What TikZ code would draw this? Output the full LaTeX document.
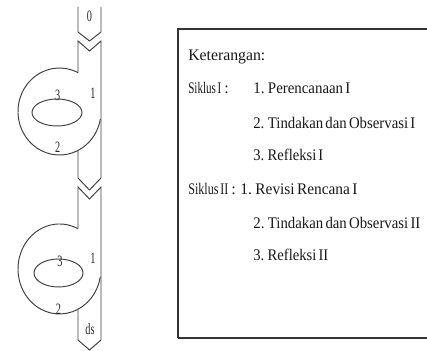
\documentclass[tikz,border=0pt]{standalone}
\usepackage{graphicx}
\usepackage{fontspec}
\setmainfont{Liberation Serif}[WordSpace=0.6]
\newfontfamily\labfont{Liberation Serif}[FakeStretch=0.65]
\newlength\px
\setlength\px{0.02cm}
\newcommand\fitw[2]{\resizebox{#1\px}{\height}{#2}}
\begin{document}
\begin{tikzpicture}[x=0.02cm,y=-0.02cm,
  strip/.style={draw=black!75, line width=0.55pt, line join=miter},
  lab/.style={inner sep=0pt, font=\labfont\fontsize{9}{9}\selectfont, text=black!85},
  txt/.style={inner sep=0pt, anchor=base west, font=\fontsize{9.2}{11}\selectfont, text=black!90}]
\useasboundingbox (0,0) rectangle (427,351);
\fill[white] (0,0) rectangle (427,351);
% top arrow piece
\draw[strip] (78,7) -- (78,32) -- (89.5,41) -- (101,32) -- (101,7);
% first spiral
\draw[strip] (78,72.6) -- (78,41) -- (89.5,51) -- (101,41) -- (101,178) -- (89.5,190) -- (78,178) -- (78,150.6);
\draw[strip] (78,72.6) arc[start angle=-63.5, end angle=-350, x radius=41.5, y radius=43.5];
\draw[strip] (57,112.5) ellipse [x radius=25, y radius=13.5];
% second spiral
\draw[strip] (78,228.7) -- (78,187) -- (89.5,199) -- (101,187) -- (101,340) -- (89.5,350) -- (78,340) -- (78,309.4);
\draw[strip] (78,228.7) arc[start angle=-63.5, end angle=-350, x radius=41.5, y radius=45];
\draw[strip] (58.5,273) ellipse [x radius=24.5, y radius=14];
% labels
\node[lab] (l0) at (89.5,16) {0};
\node[lab] (a1) at (93,93) {1};
\node[lab] (a3) at (57.7,95) {3};
\node[lab] (a2) at (57.7,147) {2};
\node[lab] (b1) at (93,258) {1};
\node[lab] (b3) at (60,261) {3};
\node[lab] (b2) at (58.5,309) {2};
\node[lab] (ds) at (90,329) {ds};
% legend box
\draw[black!80, line width=0.6pt] (432,29) -- (178,29) -- (178,338);
\draw[black!80, line width=1.1pt] (178,338) -- (432,338);
\node[txt] (k) at (188,60.7) {\fitw{77}{Keterangan:}};
\node[txt] (s1) at (188,94) {\fitw{33}{Siklus I}};
\node[txt] (c1) at (224,94) {:};
\node[txt] (s1a) at (253,94) {\fitw{97}{1. Perencanaan I}};
\node[txt] (s1b) at (253,128.3) {\fitw{162}{2. Tindakan dan Observasi I}};
\node[txt] (s1c) at (253,161) {\fitw{70}{3. Refleksi I}};
\node[txt] (s2) at (188,194.3) {\fitw{40}{Siklus II}};
\node[txt] (c2) at (231,194.3) {:};
\node[txt] (s2a) at (240,194.3) {\fitw{117}{1. Revisi Rencana I}};
\node[txt] (s2b) at (253,228.3) {\fitw{167}{2. Tindakan dan Observasi II}};
\node[txt] (s2c) at (253,261) {\fitw{75}{3. Refleksi II}};
\end{tikzpicture}
\end{document}
